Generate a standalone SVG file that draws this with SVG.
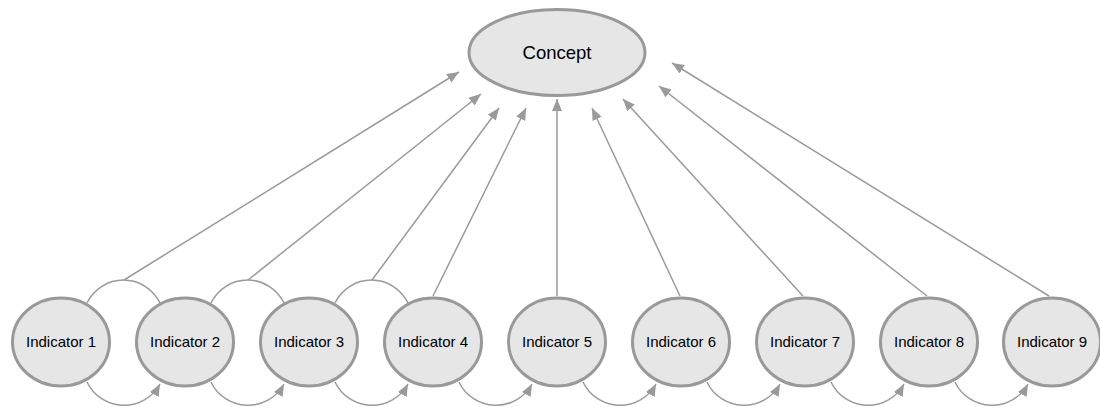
<svg xmlns="http://www.w3.org/2000/svg" width="1100" height="417" viewBox="0 0 1100 417">
<style>
.node{fill:#e6e6e6;stroke:#999999;stroke-width:3}
.lbl{font-family:"Liberation Sans",Arial,sans-serif;font-size:15px;fill:#000;text-anchor:middle}
.clbl{font-family:"Liberation Sans",Arial,sans-serif;font-size:18.5px;fill:#000;text-anchor:middle}
.edge{fill:none;stroke:#9a9a9a;stroke-width:1.5}
.arr{marker-end:url(#ah)}
</style>
<defs>
<marker id="ah" markerUnits="userSpaceOnUse" markerWidth="13" markerHeight="11" refX="12" refY="5" orient="auto">
<path d="M0,0 L12,5 L0,10 z" fill="#9a9a9a"/>
</marker>
</defs>
<rect width="1100" height="417" fill="#fff"/>
<g id="connectors">
<path class="edge" d="M87,303 A40.5,40.5 0 0 1 160,303"/>
<path class="edge" d="M211,303 A40.5,40.5 0 0 1 284,303"/>
<path class="edge" d="M335,303 A40.5,40.5 0 0 1 408,303"/>
<path class="edge arr" d="M87,382 A41,41 0 0 0 160,384"/>
<path class="edge arr" d="M211,382 A41,41 0 0 0 284,384"/>
<path class="edge arr" d="M335,382 A41,41 0 0 0 408,384"/>
<path class="edge arr" d="M459,382 A41,41 0 0 0 532,384"/>
<path class="edge arr" d="M583,382 A41,41 0 0 0 656,384"/>
<path class="edge arr" d="M707,382 A41,41 0 0 0 780,384"/>
<path class="edge arr" d="M831,382 A41,41 0 0 0 904,384"/>
<path class="edge arr" d="M955,382 A41,41 0 0 0 1028,384"/>
<line class="edge arr" x1="124" y1="280" x2="459" y2="72"/>
<line class="edge arr" x1="248" y1="280" x2="481" y2="94"/>
<line class="edge arr" x1="372" y1="280" x2="499" y2="108"/>
<line class="edge arr" x1="433" y1="296" x2="526" y2="108"/>
<line class="edge arr" x1="557" y1="296" x2="557" y2="99"/>
<line class="edge arr" x1="680" y1="296" x2="592" y2="108"/>
<line class="edge arr" x1="803" y1="296" x2="623" y2="99"/>
<line class="edge arr" x1="927" y1="296" x2="659" y2="86"/>
<line class="edge arr" x1="1049" y1="296" x2="672" y2="63"/>
</g>
<g id="concept">
<ellipse class="node" cx="557" cy="52.5" rx="88" ry="43"/>
<text class="clbl" x="557" y="59">Concept</text>
</g>
<g id="indicator1"><ellipse class="node" cx="61" cy="342" rx="48.5" ry="44"/><text class="lbl" x="61" y="347">Indicator 1</text></g>
<g id="indicator2"><ellipse class="node" cx="185" cy="342" rx="48.5" ry="44"/><text class="lbl" x="185" y="347">Indicator 2</text></g>
<g id="indicator3"><ellipse class="node" cx="309" cy="342" rx="48.5" ry="44"/><text class="lbl" x="309" y="347">Indicator 3</text></g>
<g id="indicator4"><ellipse class="node" cx="433" cy="342" rx="48.5" ry="44"/><text class="lbl" x="433" y="347">Indicator 4</text></g>
<g id="indicator5"><ellipse class="node" cx="557" cy="342" rx="48.5" ry="44"/><text class="lbl" x="557" y="347">Indicator 5</text></g>
<g id="indicator6"><ellipse class="node" cx="681" cy="342" rx="48.5" ry="44"/><text class="lbl" x="681" y="347">Indicator 6</text></g>
<g id="indicator7"><ellipse class="node" cx="805" cy="342" rx="48.5" ry="44"/><text class="lbl" x="805" y="347">Indicator 7</text></g>
<g id="indicator8"><ellipse class="node" cx="929" cy="342" rx="48.5" ry="44"/><text class="lbl" x="929" y="347">Indicator 8</text></g>
<g id="indicator9"><ellipse class="node" cx="1052" cy="342" rx="48.5" ry="44"/><text class="lbl" x="1052" y="347">Indicator 9</text></g>
</svg>
